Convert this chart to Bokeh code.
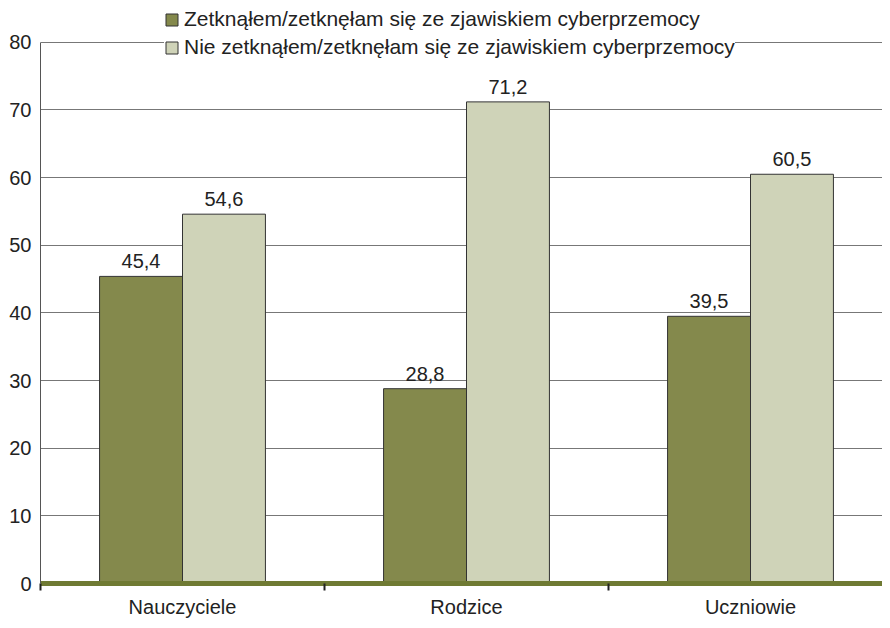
from bokeh.plotting import figure
from bokeh.models import (ColumnDataSource, FixedTicker, Range1d, Legend, LegendItem,
                          LabelSet)
from bokeh.core.properties import value
from bokeh.embed import file_html
from bokeh.resources import INLINE

categories = ["Nauczyciele", "Rodzice", "Uczniowie"]
series_names = ["Zetknąłem/zetknęłam się ze zjawiskiem cyberprzemocy",
                "Nie zetknąłem/zetknęłam się ze zjawiskiem cyberprzemocy"]
vals_yes = [45.4, 28.8, 39.5]
vals_no = [54.6, 71.2, 60.5]
y_ticks = [0, 10, 20, 30, 40, 50, 60, 70, 80]

FONT = "Liberation Sans"
FS = "20px"
C_DARK = "#84894c"
C_LIGHT = "#cfd3b8"
C_BASE = "#6f7a33"

W, H = 882, 620
FRAME_LEFT, FRAME_BOTTOM_BORDER = 40, 35
TOP80 = 42  # pixel row of the 80 gridline
frame_h = H - FRAME_BOTTOM_BORDER
px_per_unit = (frame_h - TOP80) / 80.0
y_end = 80 + TOP80 / px_per_unit
cat_px = 284.0
x_end = (W - FRAME_LEFT) / cat_px

n = len(categories)
centers = [i + 0.5 for i in range(n)]
bw = 0.292

src_yes = ColumnDataSource(dict(x=[c - bw / 2 for c in centers], top=vals_yes,
                                lab=[f"{v:.1f}".replace(".", ",") for v in vals_yes]))
src_no = ColumnDataSource(dict(x=[c + bw / 2 for c in centers], top=vals_no,
                               lab=[f"{v:.1f}".replace(".", ",") for v in vals_no]))

p = figure(width=W, height=H, output_backend="svg", toolbar_location=None,
           x_range=Range1d(0, x_end), y_range=Range1d(0, y_end),
           min_border_left=FRAME_LEFT, min_border_right=0, min_border_top=0,
           min_border_bottom=FRAME_BOTTOM_BORDER)
p.outline_line_color = None
p.background_fill_color = "white"

r1 = p.vbar(x="x", top="top", width=bw, bottom=0, source=src_yes,
            fill_color=C_DARK, line_color="#333333", line_width=1)
r2 = p.vbar(x="x", top="top", width=bw, bottom=0, source=src_no,
            fill_color=C_LIGHT, line_color="#333333", line_width=1)

for s in (src_yes, src_no):
    p.add_layout(LabelSet(x="x", y="top", text="lab", source=s, y_offset=8,
                          text_align="center", text_baseline="alphabetic",
                          text_font=value(FONT), text_font_size=value(FS),
                          text_color="#222222"))

# y axis
p.yaxis.ticker = FixedTicker(ticks=y_ticks)
p.yaxis.bounds = (0, 80)
p.yaxis.major_tick_out = 0
p.yaxis.major_tick_in = 0
p.yaxis.minor_tick_out = 0
p.yaxis.minor_tick_in = 0
p.yaxis.axis_line_color = "#555555"
p.yaxis.major_label_standoff = 9
p.yaxis.major_label_text_font = FONT
p.yaxis.major_label_text_font_size = FS
p.yaxis.major_label_text_color = "#222222"

p.ygrid.ticker = FixedTicker(ticks=y_ticks)
p.ygrid.grid_line_color = "#777777"
p.ygrid.grid_line_width = 1
p.xgrid.grid_line_color = None

# x axis
p.xaxis.ticker = FixedTicker(ticks=centers, minor_ticks=[float(i) for i in range(n + 1)])
p.xaxis.major_label_overrides = {c: cat for c, cat in zip(centers, categories)}
p.xaxis.major_tick_out = 0
p.xaxis.major_tick_in = 0
p.xaxis.minor_tick_out = 7
p.xaxis.minor_tick_in = 0
p.xaxis.minor_tick_line_color = "#222222"
p.xaxis.minor_tick_line_width = 2
p.xaxis.axis_line_color = C_BASE
p.xaxis.axis_line_width = 5
p.xaxis.major_label_standoff = 5
p.xaxis.major_label_text_font = FONT
p.xaxis.major_label_text_font_size = FS
p.xaxis.major_label_text_color = "#222222"

legend = Legend(items=[LegendItem(label=series_names[0], renderers=[r1]),
                       LegendItem(label=series_names[1], renderers=[r2])],
                location=(124, 524), orientation="vertical",
                padding=6, margin=0, spacing=4,
                glyph_width=15, glyph_height=15, label_height=20,
                label_standoff=5, label_text_font=FONT, label_text_font_size="21px",
                label_text_color="#222222", border_line_color=None,
                background_fill_color="white", background_fill_alpha=1.0)
p.add_layout(legend, "center")

open("out.html", "w").write(file_html(p, INLINE))
